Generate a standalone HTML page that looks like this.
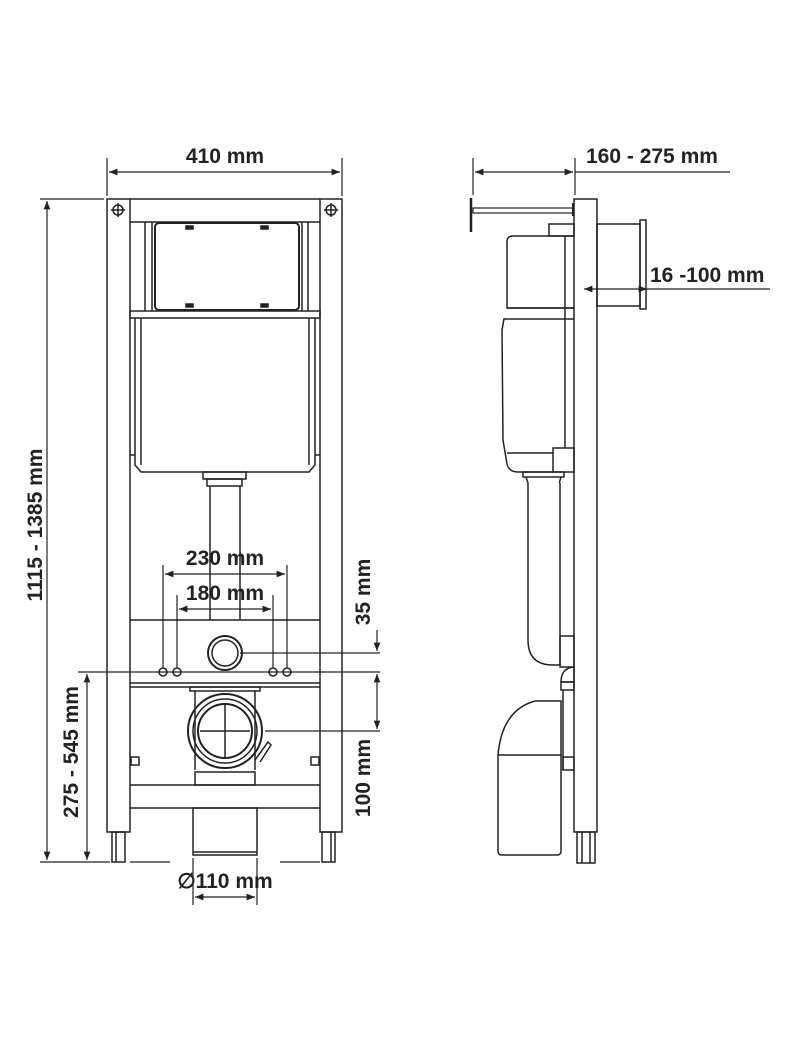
<!DOCTYPE html>
<html><head><meta charset="utf-8"><style>
html,body{margin:0;padding:0;background:#fff;}
svg{display:block}
text{font-family:"Liberation Sans",sans-serif;font-weight:bold;fill:#222;}
</style></head><body>
<svg width="800" height="1047" viewBox="0 0 800 1047" xmlns="http://www.w3.org/2000/svg">
<defs>
<marker id="a" viewBox="0 0 10 10" refX="10" refY="5" markerWidth="9" markerHeight="7" orient="auto-start-reverse"><path d="M0,1 L10,5 L0,9 z" fill="#222"/></marker>
</defs>
<g fill="none" stroke="#222" stroke-width="1.5">
<!-- FRONT VIEW -->
<rect x="107" y="199" width="23" height="633"/>
<rect x="320" y="199" width="22" height="633"/>
<rect x="112" y="832" width="13" height="30"/><line x1="116" y1="832" x2="116" y2="862"/>
<rect x="322" y="832" width="13" height="30"/><line x1="331" y1="832" x2="331" y2="862"/>
<line x1="130" y1="199" x2="320" y2="199"/>
<line x1="130" y1="222" x2="320" y2="222"/>
<line x1="145" y1="222" x2="145" y2="311"/><line x1="152" y1="222" x2="152" y2="311"/>
<line x1="302" y1="222" x2="302" y2="311"/><line x1="308" y1="222" x2="308" y2="311"/>
<rect x="155" y="223" width="144" height="87" rx="4" stroke-width="2"/>
<rect x="186" y="226" width="7" height="3" fill="#222"/><rect x="261" y="226" width="7" height="3" fill="#222"/>
<rect x="186" y="304" width="7" height="3" fill="#222"/><rect x="261" y="304" width="7" height="3" fill="#222"/>
<rect x="130" y="311" width="190" height="7"/>
<path d="M135,318 V465 L141,472 H309 L315,465 V318"/>
<line x1="141" y1="318" x2="141" y2="465"/><line x1="309" y1="318" x2="309" y2="465"/>
<line x1="130" y1="455" x2="135" y2="455"/><line x1="315" y1="455" x2="320" y2="455"/>
<rect x="203" y="472" width="43" height="7"/>
<rect x="207" y="479" width="35" height="7"/>
<line x1="210" y1="486" x2="210" y2="620"/><line x1="240" y1="486" x2="240" y2="620"/>
<line x1="130" y1="620" x2="320" y2="620"/>
<line x1="130" y1="683" x2="320" y2="683"/>
<line x1="130" y1="687" x2="320" y2="687"/>
<circle cx="225" cy="653" r="17" stroke-width="2"/><circle cx="225" cy="653" r="13"/>
<circle cx="163" cy="672" r="4"/><circle cx="177" cy="672" r="4"/>
<circle cx="273" cy="672" r="4"/><circle cx="287" cy="672" r="4"/>
<rect x="190" y="687" width="70" height="4"/>
<line x1="195" y1="691" x2="195" y2="770"/><line x1="255" y1="691" x2="255" y2="770"/>
<circle cx="225" cy="731" r="37" stroke-width="2"/><circle cx="225" cy="731" r="32"/><circle cx="225" cy="731" r="27" stroke-width="2"/>
<line x1="200" y1="731" x2="250" y2="731"/><line x1="225" y1="704" x2="225" y2="758"/>
<path d="M255,760 L268,742 L271,745 L260,762"/>
<rect x="195" y="772" width="60" height="13"/>
<line x1="130" y1="785" x2="320" y2="785"/><line x1="130" y1="808" x2="320" y2="808"/>
<rect x="193" y="808" width="64" height="47"/><line x1="193" y1="852" x2="257" y2="852"/>
<rect x="131" y="757" width="8" height="8"/><rect x="311" y="757" width="8" height="8"/>
<circle cx="118" cy="210" r="5"/><line x1="111" y1="210" x2="125" y2="210"/><line x1="118" y1="203" x2="118" y2="217"/>
<circle cx="331" cy="210" r="5"/><line x1="324" y1="210" x2="338" y2="210"/><line x1="331" y1="203" x2="331" y2="217"/>

<!-- DIMENSIONS FRONT -->
<line x1="107" y1="158" x2="107" y2="196" stroke-width="1.2"/><line x1="342" y1="158" x2="342" y2="196" stroke-width="1.2"/>
<line x1="109" y1="172" x2="340" y2="172" marker-start="url(#a)" marker-end="url(#a)" stroke-width="1.2"/>
<line x1="40" y1="199" x2="104" y2="199" stroke-width="1.2"/><line x1="40" y1="862" x2="110" y2="862" stroke-width="1.2"/>
<line x1="47" y1="201" x2="47" y2="860" marker-start="url(#a)" marker-end="url(#a)" stroke-width="1.2"/>
<line x1="78" y1="672" x2="380" y2="672" stroke-width="1.2"/>
<line x1="87" y1="674" x2="87" y2="860" marker-start="url(#a)" marker-end="url(#a)" stroke-width="1.2"/>
<line x1="240" y1="653" x2="380" y2="653" stroke-width="1.2"/>
<line x1="265" y1="731" x2="380" y2="731" stroke-width="1.2"/>
<line x1="377" y1="630" x2="377" y2="651" marker-end="url(#a)" stroke-width="1.2"/>
<line x1="377" y1="674" x2="377" y2="729" marker-start="url(#a)" marker-end="url(#a)" stroke-width="1.2"/>
<line x1="163" y1="565" x2="163" y2="668" stroke-width="1.2"/><line x1="287" y1="565" x2="287" y2="668" stroke-width="1.2"/>
<line x1="165" y1="574" x2="285" y2="574" marker-start="url(#a)" marker-end="url(#a)" stroke-width="1.2"/>
<line x1="177" y1="595" x2="177" y2="668" stroke-width="1.2"/><line x1="273" y1="595" x2="273" y2="668" stroke-width="1.2"/>
<line x1="179" y1="609" x2="271" y2="609" marker-start="url(#a)" marker-end="url(#a)" stroke-width="1.2"/>
<line x1="193" y1="858" x2="193" y2="905" stroke-width="1.2"/><line x1="257" y1="858" x2="257" y2="905" stroke-width="1.2"/>
<line x1="195" y1="897" x2="255" y2="897" marker-start="url(#a)" marker-end="url(#a)" stroke-width="1.2"/>
<line x1="130" y1="862" x2="170" y2="862" stroke-width="1.2"/><line x1="280" y1="862" x2="320" y2="862" stroke-width="1.2"/>

<!-- SIDE VIEW -->
<rect x="574" y="199" width="23" height="633"/>
<rect x="577" y="832" width="18" height="31"/><line x1="582" y1="832" x2="582" y2="863"/><line x1="590" y1="832" x2="590" y2="863"/>
<line x1="471" y1="198" x2="471" y2="232" stroke-width="2.5"/>
<rect x="473" y="208" width="100" height="5" stroke-width="1.2"/>
<line x1="573" y1="203" x2="573" y2="216" stroke-width="2"/>
<rect x="597" y="224" width="43" height="82"/>
<rect x="640" y="220" width="6" height="89"/>
<line x1="584" y1="289" x2="647" y2="289" marker-start="url(#a)" marker-end="url(#a)" stroke-width="1.2"/>
<line x1="647" y1="289" x2="770" y2="289" stroke-width="1.2"/>
<rect x="549" y="224" width="25" height="12"/>
<path d="M574,236 H513 Q507,236 507,242 V308 H574"/>
<line x1="507" y1="308" x2="574" y2="308"/>
<line x1="565" y1="236" x2="565" y2="448"/>
<path d="M574,319 H504 L502,330 L503,440 L507,464 Q509,472 518,472 H553"/>
<line x1="507" y1="453" x2="553" y2="453"/>
<rect x="553" y="448" width="21" height="24"/>
<rect x="523" y="472" width="41" height="5"/>
<path d="M526,477 Q528,483 528,483 M561,477 Q559,483 560,483"/>
<path d="M528,483 V640 Q528,665 553,665 H560 V483"/>
<rect x="560" y="636" width="14" height="31"/>
<path d="M561,682 Q561,668 574,667 V682 Z"/>
<rect x="561" y="682" width="13" height="8"/>
<path d="M561,701 H535 Q502,710 498,755 V851 Q498,855 502,855 H557 Q561,855 561,851 Z"/>
<line x1="498" y1="755" x2="561" y2="755"/>
<line x1="563" y1="690" x2="563" y2="770"/>
<rect x="563" y="757" width="11" height="13"/>
</g>
<g stroke="#222" stroke-width="1.2" fill="none">
<line x1="473" y1="158" x2="473" y2="195"/><line x1="575" y1="158" x2="575" y2="195"/>
<line x1="475" y1="172" x2="573" y2="172" marker-start="url(#a)" marker-end="url(#a)"/>
<line x1="575" y1="172" x2="730" y2="172"/>
</g>
<g font-size="21">
<text x="225" y="163" text-anchor="middle">410 mm</text>
<text x="586" y="163">160 - 275 mm</text>
<text x="650" y="282">16 -100 mm</text>
<text x="225" y="565" text-anchor="middle">230 mm</text>
<text x="225" y="600" text-anchor="middle">180 mm</text>
<text x="225" y="888" text-anchor="middle">∅110 mm</text>
<text transform="translate(42,525) rotate(-90)" text-anchor="middle">1115 - 1385 mm</text>
<text transform="translate(78,752) rotate(-90)" text-anchor="middle">275 - 545 mm</text>
<text transform="translate(370,592) rotate(-90)" text-anchor="middle">35 mm</text>
<text transform="translate(370,778) rotate(-90)" text-anchor="middle">100 mm</text>
</g>
</svg>
</body></html>
